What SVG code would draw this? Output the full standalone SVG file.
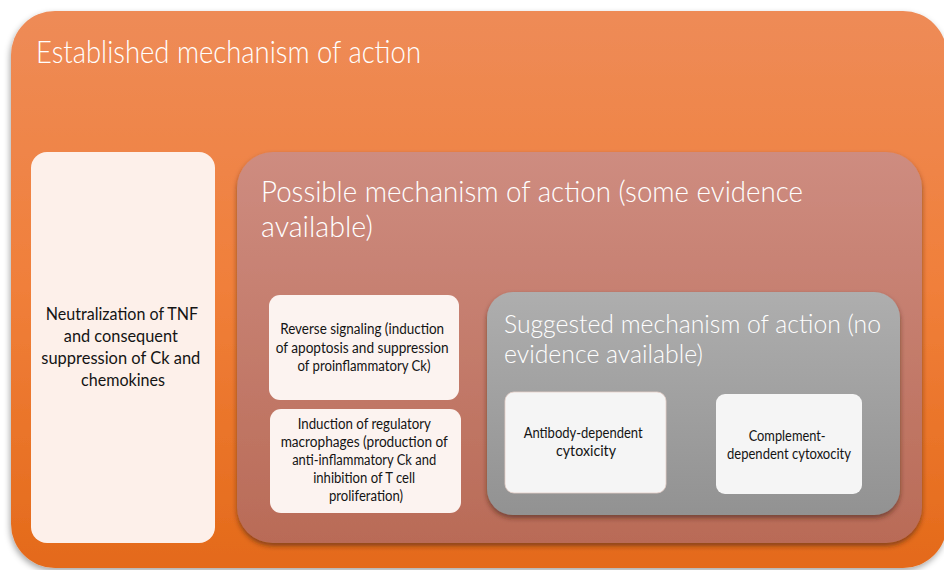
<svg xmlns="http://www.w3.org/2000/svg" width="944" height="570" viewBox="0 0 944 570">
<style>
.title{font-family:Lato,"Liberation Sans",sans-serif;font-weight:300;fill:#ffffff;}
.t{font-family:Lato,"Liberation Sans",sans-serif;fill:#141414;text-anchor:middle;}
</style>
<defs>
<linearGradient id="gOrange" x1="0" y1="0" x2="0" y2="1">
<stop offset="0" stop-color="#EE8B57"/><stop offset="0.5" stop-color="#F07F3A"/><stop offset="1" stop-color="#E46A1A"/>
</linearGradient>
<linearGradient id="gRose" x1="0" y1="0" x2="0" y2="1">
<stop offset="0" stop-color="#CE8C80"/><stop offset="1" stop-color="#B96B57"/>
</linearGradient>
<linearGradient id="gGray" x1="0" y1="0" x2="0" y2="1">
<stop offset="0" stop-color="#AEAEAE"/><stop offset="1" stop-color="#929292"/>
</linearGradient>
<filter id="sh" x="-10%" y="-10%" width="120%" height="125%">
<feDropShadow dx="0" dy="3" stdDeviation="2.5" flood-color="#3a1a0a" flood-opacity="0.55"/>
</filter>
<filter id="shO" x="-10%" y="-10%" width="120%" height="120%">
<feDropShadow dx="-1" dy="3" stdDeviation="3" flood-color="#000" flood-opacity="0.35"/>
</filter>
</defs>

<g id="established">
<rect x="11" y="11" width="936" height="557" rx="44" fill="url(#gOrange)" filter="url(#shO)"/>
<text class="title" x="36" y="63" font-size="32" textLength="385" lengthAdjust="spacingAndGlyphs">Established mechanism of action</text>
</g>

<g id="neutralization">
<rect x="31" y="152" width="184" height="391" rx="16" fill="#FDF0EA"/>
<text class="t" font-size="17">
<tspan x="124" y="320" textLength="152" lengthAdjust="spacingAndGlyphs">Neutralization of TNF</tspan>
<tspan x="123" y="342" textLength="114" lengthAdjust="spacingAndGlyphs">and consequent</tspan>
<tspan x="123" y="364" textLength="159" lengthAdjust="spacingAndGlyphs">suppression of Ck and</tspan>
<tspan x="123" y="386" textLength="84" lengthAdjust="spacingAndGlyphs">chemokines</tspan>
</text>
</g>

<g id="possible">
<rect x="237" y="152" width="685" height="391" rx="36" fill="url(#gRose)" filter="url(#sh)"/>
<text class="title" font-size="30">
<tspan x="261" y="202" textLength="542" lengthAdjust="spacingAndGlyphs">Possible mechanism of action (some evidence</tspan>
<tspan x="261" y="237" textLength="112" lengthAdjust="spacingAndGlyphs">available)</tspan>
</text>
</g>

<g id="reverse">
<rect x="269" y="295" width="190" height="105" rx="11" fill="#FCF3F0"/>
<text class="t" font-size="14.5">
<tspan x="364" y="334" textLength="164" lengthAdjust="spacingAndGlyphs">Reverse signaling (induction</tspan>
<tspan x="364" y="353" textLength="173" lengthAdjust="spacingAndGlyphs">of apoptosis and suppression</tspan>
<tspan x="364" y="371" textLength="133" lengthAdjust="spacingAndGlyphs">of proinflammatory Ck)</tspan>
</text>
</g>

<g id="induction">
<rect x="270" y="409" width="191" height="104" rx="11" fill="#FCF3F0"/>
<text class="t" font-size="14.5">
<tspan x="366" y="429" textLength="133" lengthAdjust="spacingAndGlyphs">Induction of regulatory</tspan>
<tspan x="366" y="447" textLength="167" lengthAdjust="spacingAndGlyphs">macrophages (production of</tspan>
<tspan x="366" y="465" textLength="144" lengthAdjust="spacingAndGlyphs">anti-inflammatory Ck and</tspan>
<tspan x="366" y="483" textLength="102" lengthAdjust="spacingAndGlyphs">inhibition of T cell</tspan>
<tspan x="366" y="501" textLength="74" lengthAdjust="spacingAndGlyphs">proliferation)</tspan>
</text>
</g>

<g id="suggested">
<rect x="487" y="292" width="413" height="223" rx="26" fill="url(#gGray)" filter="url(#sh)"/>
<text class="title" font-size="26">
<tspan x="504" y="333" textLength="377" lengthAdjust="spacingAndGlyphs">Suggested mechanism of action (no</tspan>
<tspan x="504" y="363" textLength="199" lengthAdjust="spacingAndGlyphs">evidence available)</tspan>
</text>
</g>

<g id="antibody">
<rect x="505" y="392" width="161" height="101" rx="9" fill="#F5F5F5" stroke="#E6CFC8" stroke-width="0.8"/>
<text class="t" font-size="14.5">
<tspan x="585" y="438" textLength="119" lengthAdjust="spacingAndGlyphs">Antibody-dependent</tspan>
<tspan x="586" y="456" textLength="60" lengthAdjust="spacingAndGlyphs">cytoxicity</tspan>
</text>
</g>

<g id="complement">
<rect x="716" y="394" width="146" height="100" rx="9" fill="#F5F5F5"/>
<text class="t" font-size="14.5">
<tspan x="789" y="441" textLength="77" lengthAdjust="spacingAndGlyphs">Complement-</tspan>
<tspan x="789" y="459" textLength="124" lengthAdjust="spacingAndGlyphs">dependent cytoxocity</tspan>
</text>
</g>

<g id="connectors"></g>
</svg>
